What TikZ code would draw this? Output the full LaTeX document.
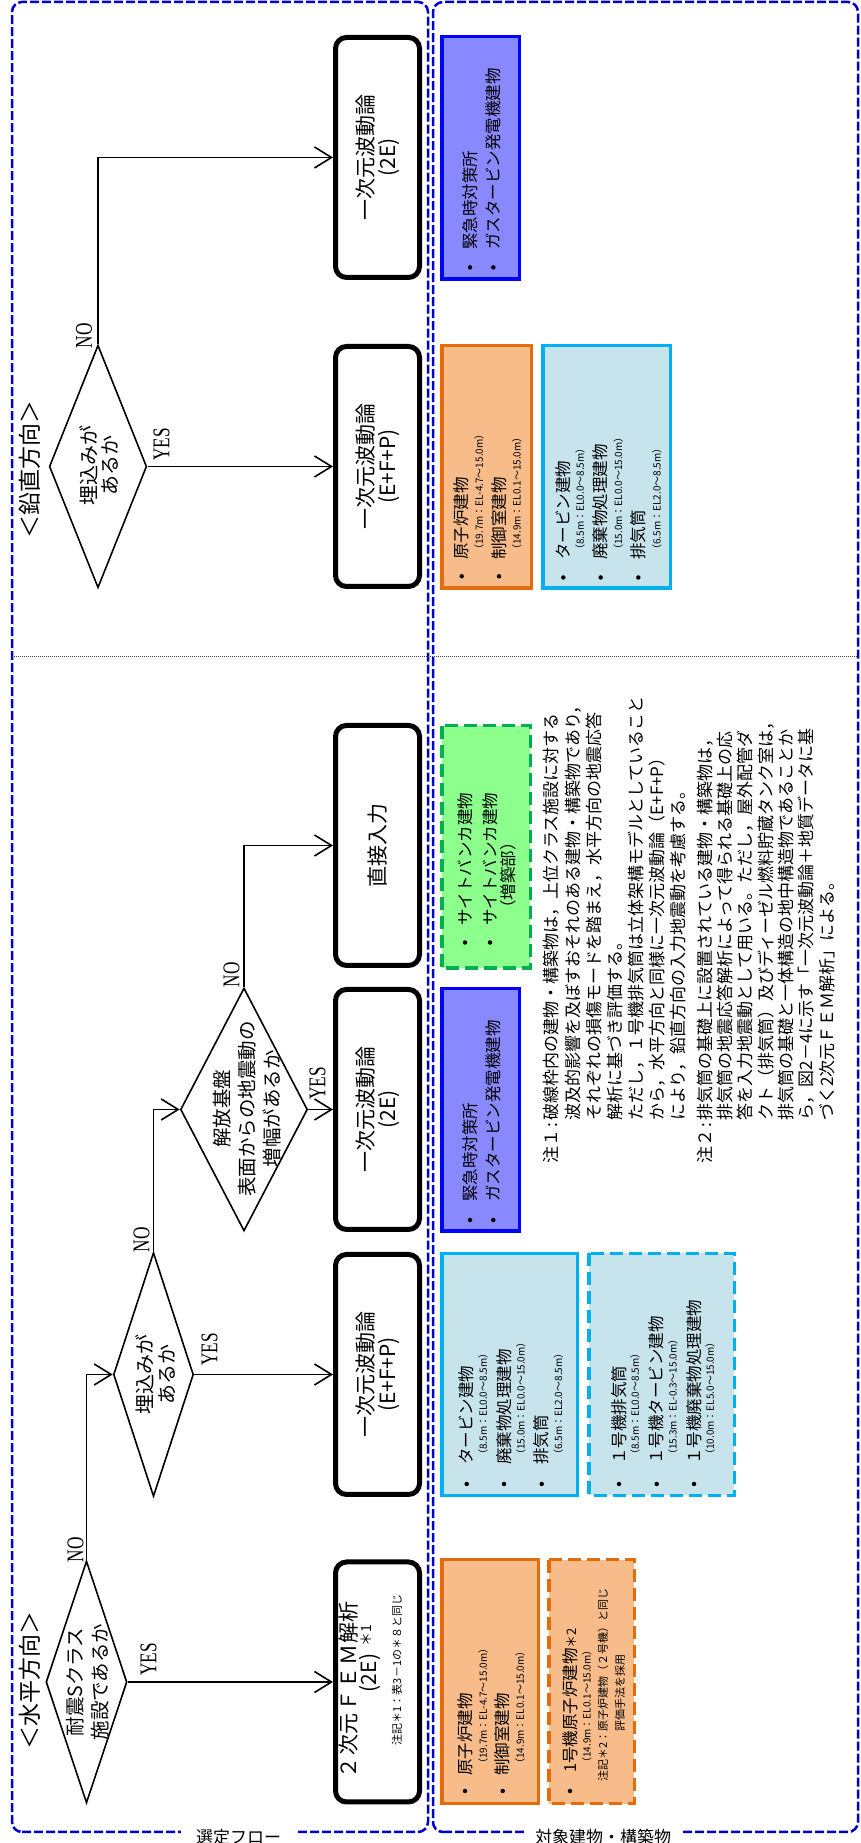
\documentclass[tikz,border=0pt]{standalone}
\usepackage{fontspec}
\setmainfont{Noto Sans CJK JP}
\newfontfamily\ynfont[FakeStretch=0.72]{Liberation Serif}
\usetikzlibrary{shapes.geometric,arrows.meta}
\definecolor{obd}{RGB}{228,108,10}
\definecolor{ofl}{RGB}{248,188,138}
\definecolor{lbd}{RGB}{0,176,240}
\definecolor{lbf}{RGB}{199,228,237}
\definecolor{bbd}{RGB}{0,0,255}
\definecolor{bbf}{RGB}{136,136,255}
\definecolor{gbd}{RGB}{0,176,80}
\definecolor{gbf}{RGB}{140,255,140}
\definecolor{frm}{RGB}{0,0,204}
\newcommand\myfs[2]{\fontsize{#1}{#2}\selectfont}
\begin{document}
\begin{tikzpicture}[x=1pt,y=1pt]
\tikzset{
 frame/.style={draw=frm, line width=2.5pt, dash pattern=on 9pt off 3pt, rounded corners=10pt},
 flowbox/.style={draw, line width=5pt, rounded corners=11pt, minimum width=240pt, minimum height=84pt, inner sep=0pt, align=center, font=\myfs{21}{22}},
 dia/.style={draw, diamond, line width=1.6pt, inner sep=0pt},
 dtext/.style={align=center, inner sep=0pt},
 conn/.style={line width=1.6pt, -{Straight Barb[length=17pt,width=21pt]}},
 yn/.style={inner sep=0pt, font=\ynfont\myfs{24}{24}},
 cbox/.style={line width=3.5pt, inner sep=0pt},
 orS/.style={cbox, draw=obd, fill=ofl},
 orD/.style={orS, dash pattern=on 13pt off 6pt},
 lbS/.style={cbox, draw=lbd, fill=lbf},
 lbD/.style={lbS, dash pattern=on 13pt off 6pt},
 blS/.style={cbox, draw=bbd, fill=bbf},
 grD/.style={cbox, draw=gbd, fill=gbf, dash pattern=on 13pt off 6pt},
 bul/.style={circle, fill=black, inner sep=0pt, minimum size=4.5pt},
 mt/.style={anchor=west, inner sep=0pt, font=\myfs{16.5}{16.5}},
 st/.style={anchor=west, inner sep=0pt, font=\myfs{10}{10}},
 nt/.style={anchor=west, inner sep=0pt, font=\myfs{17}{17}},
 lab/.style={fill=white, rotate=-90, inner ysep=3pt, font=\myfs{17}{17}},
}
\begin{scope}[rotate=90,transform shape]
\useasboundingbox (0,0) rectangle (1843,-860);
% frames
\draw[frame] (11,-12) rectangle (1841,-428);
\draw[frame] (11,-433) rectangle (1841,-858);
\node[lab, inner xsep=15pt] (labA) at (6,-238.5) {選定フロー};
\node[lab, inner xsep=11pt] (labB) at (6,-603) {対象建物・構築物};
% divider
\draw[line width=0.8pt, black!75, dash pattern=on 1pt off 1pt] (1187,-12) -- (1187,-858);
% headers
\node[font=\myfs{23}{23}, inner sep=0pt] (hh) at (162,-30) {＜水平方向＞};
\node[font=\myfs{23}{23}, inner sep=0pt] (vh) at (1373.5,-30) {＜鉛直方向＞};
% diamonds
\node[dia, minimum width=242pt, minimum height=81pt] (d1) at (161,-86.5) {};
\node[dtext, font=\myfs{19.5}{25}] (t1) at (161,-87.5) {耐震Sクラス\\施設であるか};
\node[dia, minimum width=244pt, minimum height=80pt] (d2) at (468.5,-153.5) {};
\node[dtext, font=\myfs{20}{22}] (t2) at (468,-156) {埋込みが\\あるか};
\node[dia, minimum width=243pt, minimum height=127pt] (d3) at (733.5,-244) {};
\node[dtext, font=\myfs{19.5}{25}] (t3) at (734,-247) {解放基盤\\表面からの地震動の\\増幅があるか};
\node[dia, minimum width=242.6pt, minimum height=97.4pt] (d4) at (1376.5,-98) {};
\node[dtext, font=\myfs{20}{21}] (t4) at (1377,-99.5) {埋込みが\\あるか};
% flow boxes
\node[flowbox] (fem) at (161,-377.5) {};
\node[font=\myfs{21}{21}, inner sep=0pt] (fem1) at (153,-349) {２\hspace{3pt}次元\hspace{2pt}Ｆ\hspace{2pt}Ｅ\hspace{2pt}Ｍ\hspace{1pt}解析};
\node[font=\myfs{21}{21}, inner sep=0pt] (fem2) at (170,-369.5) {(2E)};
\node[font=\myfs{14}{14}, inner sep=0pt] (fem3) at (207,-366) {＊1};
\node[font=\myfs{11}{11}, inner sep=0pt] (fem4) at (173,-397) {注記＊1：表3－1の＊８と同じ};
\node[flowbox] (h1) at (468.5,-377.5) {一次元波動論\\(E+F+P)};
\node[flowbox] (h2) at (733.5,-377.5) {一次元波動論\\(2E)};
\node[flowbox] (di) at (997.5,-377.5) {直接入力};
\node[flowbox] (v1) at (1376.5,-377.5) {一次元波動論\\(E+F+P)};
\node[flowbox] (v2) at (1685.5,-377.5) {一次元波動論\\(2E)};
% connectors
\draw[conn] (d1.south) -- (fem.north);
\draw[conn] (d1.east) -| (d2.north);
\draw[conn] (d2.south) -- (h1.north);
\draw[conn] (d2.east) -| (d3.north);
\draw[conn] (d3.south) -- (h2.north);
\draw[conn] (d3.east) -| (di.north);
\draw[conn] (d4.south) -- (v1.north);
\draw[conn] (d4.east) -| (v2.north);
% yes / no
\node[yn] (y1) at (183.5,-148.5) {YES};
\node[yn] (n1) at (293,-75.5) {NO};
\node[yn] (y2) at (493.5,-209.5) {YES};
\node[yn] (n2) at (603,-141.5) {NO};
\node[yn] (y3) at (759.5,-317.5) {YES};
\node[yn] (n3) at (868,-231.5) {NO};
\node[yn] (y4) at (1398.5,-161.5) {YES};
\node[yn] (n4) at (1507,-84) {NO};
% colour boxes - horizontal
\node[orS, minimum width=244pt, minimum height=96.5pt] (ohs) at (161.25,-490) {};
\node[bul] (ohb1) at (52,-465) {};
\node[mt] (oht1) at (67,-465) {原子炉建物};
\node[st] (ohs1) at (74,-483) {（19.7m：EL-4.7～15.0m）};
\node[bul] (ohb2) at (52,-502.7) {};
\node[mt] (oht2) at (67,-502.7) {制御室建物};
\node[st] (ohs2) at (74,-520) {（14.9m：EL0.1～15.0m）};

\node[orD, minimum width=244pt, minimum height=85.5pt] (ohd) at (161.25,-591.5) {};
\node[bul] (odb1) at (52,-570) {};
\node[mt] (odt1) at (70,-570) {1号機原子炉建物{\myfs{13}{13}＊2}};
\node[st] (ods1) at (75,-586.7) {（14.9m：EL0.1～15.0m）};
\node[font=\myfs{11}{11}, inner sep=0pt] (odn1) at (158,-603) {注記＊2：原子炉建物（２号機）と同じ};
\node[font=\myfs{11}{11}, inner sep=0pt] (odn2) at (150,-620) {評価手法を採用};

\node[lbS, minimum width=242pt, minimum height=135.5pt] (lhs) at (468.5,-509.5) {};
\node[bul] (lhb1) at (359,-466.7) {};
\node[mt] (lht1) at (378,-466.7) {タービン建物};
\node[st] (lhs1) at (383,-483) {（8.5m：EL0.0～8.5m）};
\node[bul] (lhb2) at (359,-504) {};
\node[mt] (lht2) at (378,-504) {廃棄物処理建物};
\node[st] (lhs2) at (383,-520.7) {（15.0m：EL0.0～15.0m）};
\node[bul] (lhb3) at (359,-541.7) {};
\node[mt] (lht3) at (378,-541.7) {排気筒};
\node[st] (lhs3) at (383,-558.3) {（6.5m：EL2.0～8.5m）};

\node[lbD, minimum width=242pt, minimum height=145.5pt] (lhd) at (468.5,-661.5) {};
\node[bul] (ldb1) at (359,-619) {};
\node[mt] (ldt1) at (378,-619) {１号機排気筒};
\node[st] (lds1) at (383,-635) {（8.5m：EL0.0～8.5m）};
\node[bul] (ldb2) at (359,-656.7) {};
\node[mt] (ldt2) at (378,-656.7) {１号機タービン建物};
\node[st] (lds2) at (383,-672.7) {（15.3m：EL-0.3～15.0m）};
\node[bul] (ldb3) at (359,-694) {};
\node[mt] (ldt3) at (378,-694) {１号機廃棄物処理建物};
\node[st] (lds3) at (383,-710) {（10.0m：EL5.0～15.0m）};

\node[blS, minimum width=242.5pt, minimum height=77.5pt] (bh) at (733,-480.5) {};
\node[bul] (bhb1) at (623,-470) {};
\node[mt] (bht1) at (641,-470) {緊急時対策所};
\node[bul] (bhb2) at (623,-493.3) {};
\node[mt] (bht2) at (641,-493.3) {ガスタービン発電機建物};

\node[grD, minimum width=242.5pt, minimum height=88.5pt] (gh) at (996,-486) {};
\node[bul] (ghb1) at (900.5,-465) {};
\node[mt] (ght1) at (917,-465) {サイトバンカ建物};
\node[bul] (ghb2) at (900.5,-490) {};
\node[mt] (ght2) at (917,-490) {サイトバンカ建物};
\node[mt] (ght3) at (926,-508) {（増築部）};

% notes
\node[nt] (n1a) at (679.5,-551.7) {注１\makebox[8.5pt][c]{:}破線枠内の建物・構築物は，上位クラス施設に対する};
\node[nt] (n1b) at (722,-572.8) {波及的影響を及ぼすおそれのある建物・構築物であり，};
\node[nt] (n1c) at (722,-593.9) {それぞれの損傷モードを踏まえ，水平方向の地震応答};
\node[nt] (n1d) at (722,-615) {解析に基づき評価する。};
\node[nt] (n1e) at (722,-636.1) {ただし，１号機排気筒は立体架構モデルとしていること};
\node[nt] (n1f) at (722,-657.2) {から，水平方向と同様に一次元波動論（E+F+P）};
\node[nt] (n1g) at (722,-678.3) {により，鉛直方向の入力地震動を考慮する。};
\node[nt] (n2a) at (679.5,-705) {注２\makebox[8.5pt][c]{:}排気筒の基礎上に設置されている建物・構築物は，};
\node[nt] (n2b) at (722,-725.3) {排気筒の地震応答解析によって得られる基礎上の応};
\node[nt] (n2c) at (722,-745.6) {答を入力地震動として用いる。ただし，屋外配管ダ};
\node[nt] (n2d) at (722,-765.9) {クト（排気筒）及びディーゼル燃料貯蔵タンク室は，};
\node[nt] (n2e) at (722,-786.2) {排気筒の基礎と一体構造の地中構造物であることか};
\node[nt] (n2f) at (722,-806.5) {ら，図2－4に示す「一次元波動論＋地質データに基};
\node[nt] (n2g) at (722,-826.8) {づく2次元ＦＥＭ解析」による。};

% colour boxes - vertical
\node[blS, minimum width=242.5pt, minimum height=77.5pt] (bv) at (1685,-480.5) {};
\node[bul] (bvb1) at (1575.6,-470) {};
\node[mt] (bvt1) at (1593,-470) {緊急時対策所};
\node[bul] (bvb2) at (1575.6,-493.3) {};
\node[mt] (bvt2) at (1593,-493.3) {ガスタービン発電機建物};

\node[orS, minimum width=242.5pt, minimum height=89.5pt] (ov) at (1376,-486.5) {};
\node[bul] (ovb1) at (1266.7,-461.7) {};
\node[mt] (ovt1) at (1283,-461.7) {原子炉建物};
\node[st] (ovs1) at (1288,-479) {（19.7m：EL-4.7～15.0m）};
\node[bul] (ovb2) at (1266.7,-499) {};
\node[mt] (ovt2) at (1283,-499) {制御室建物};
\node[st] (ovs2) at (1288,-516.7) {（14.9m：EL0.1～15.0m）};

\node[lbS, minimum width=242.5pt, minimum height=127.5pt] (lv) at (1376,-606.5) {};
\node[bul] (lvb1) at (1265.5,-563.3) {};
\node[mt] (lvt1) at (1283,-563.3) {タービン建物};
\node[st] (lvs1) at (1288,-580) {（8.5m：EL0.0～8.5m）};
\node[bul] (lvb2) at (1265.5,-600.7) {};
\node[mt] (lvt2) at (1283,-600.7) {廃棄物処理建物};
\node[st] (lvs2) at (1288,-618.3) {（15.0m：EL0.0～15.0m）};
\node[bul] (lvb3) at (1265.5,-638.3) {};
\node[mt] (lvt3) at (1283,-638.3) {排気筒};
\node[st] (lvs3) at (1288,-656.7) {（6.5m：EL2.0～8.5m）};
\end{scope}
\end{tikzpicture}
\end{document}
